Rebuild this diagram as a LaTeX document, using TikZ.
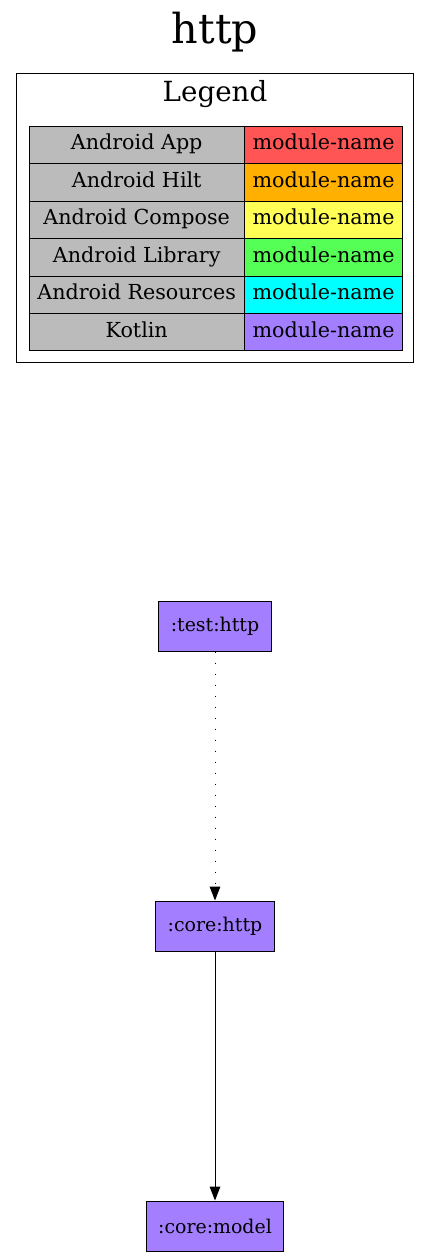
\documentclass[tikz,border=0pt]{standalone}
\usepackage{tikz}
\usetikzlibrary{arrows.meta,positioning}
\usepackage{xcolor}
\usepackage{fontspec}
\setmainfont{DejaVu Serif}
\definecolor{appred}{HTML}{FF5555}
\definecolor{hiltorange}{HTML}{FFB000}
\definecolor{composeyellow}{HTML}{FFFF55}
\definecolor{libgreen}{HTML}{55FF55}
\definecolor{rescyan}{HTML}{00FFFF}
\definecolor{kotlinpurple}{HTML}{A37EFF}
\definecolor{cellgray}{HTML}{BBBBBB}

\begin{document}
\begin{tikzpicture}[
    x=0.75pt, y=-0.75pt,
    line width=0.75pt,
    node distance=0pt,
    keycell/.style={draw, fill=cellgray, minimum width=161.5pt, minimum height=28.1pt, inner sep=0pt, outer sep=0pt, text height=11.3pt, text depth=3.8pt, font=\fontsize{15.5}{18}\selectfont},
    namecell/.style={keycell, minimum width=118.8pt},
    module/.style={draw, fill=kotlinpurple, minimum height=37.5pt, inner xsep=9pt, font=\fontsize{14.2}{17}\selectfont},
    arrow/.style={-{Triangle[length=10.5pt, width=8pt]}}
  ]
    \useasboundingbox (0,0) rectangle (431,1257);
    \node[anchor=base, font=\fontsize{31}{37}\selectfont] (title) at (215,43) {http};
    \node[draw, minimum width=298.1pt, minimum height=216.75pt] (legend) at (215.25,217.5) {};
    \node[anchor=base, font=\fontsize{20.8}{25}\selectfont] (legendtitle) at (215,101) {Legend};
    % legend rows
    \node[keycell] (app) at (136.7,144.9) {Android App};
    \node[namecell, right=of app, fill=appred] (appname) {module-name};
    \node[keycell, below=of app] (hilt) {Android Hilt};
    \node[namecell, right=of hilt, fill=hiltorange] (hiltname) {module-name};
    \node[keycell, below=of hilt] (compose) {Android Compose};
    \node[namecell, right=of compose, fill=composeyellow] (composename) {module-name};
    \node[keycell, below=of compose] (library) {Android Library};
    \node[namecell, right=of library, fill=libgreen] (libraryname) {module-name};
    \node[keycell, below=of library] (resources) {Android Resources};
    \node[namecell, right=of resources, fill=rescyan] (resourcesname) {module-name};
    \node[keycell, below=of resources] (kotlin) {Kotlin};
    \node[namecell, right=of kotlin, fill=kotlinpurple] (kotlinname) {module-name};
    % modules
    \node[module] (testhttp) at (215,626) {:test:http};
    \node[module] (corehttp) at (215,926) {:core:http};
    \node[module] (coremodel) at (215,1226) {:core:model};
    \draw[arrow, dash pattern=on 0.75pt off 7.5pt] (testhttp) -- (corehttp);
    \draw[arrow] (corehttp) -- (coremodel);
  \end{tikzpicture}
\end{document}
